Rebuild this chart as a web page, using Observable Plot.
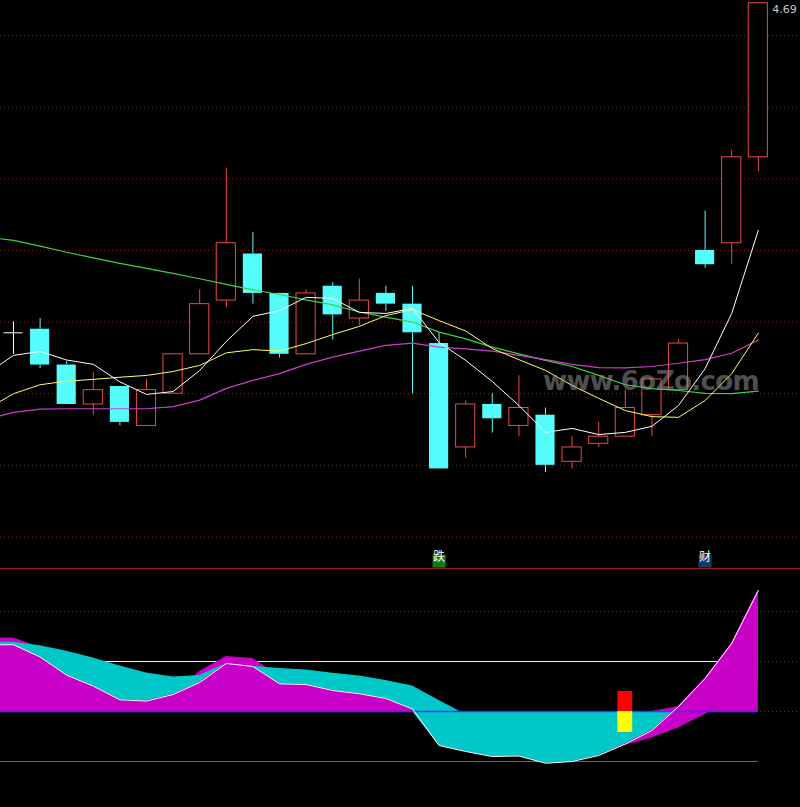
<!DOCTYPE html>
<html><head><meta charset="utf-8">
<script src="https://cdn.jsdelivr.net/npm/d3@7"></script>
<script src="https://cdn.jsdelivr.net/npm/@observablehq/plot@0.6"></script>
<style>
html,body{margin:0;padding:0;background:#000;}
#wrap{position:relative;width:800px;height:807px;background:#000;overflow:hidden;}
#sep{height:0;border-top:1px solid #a01414;}
svg{display:block;}
#wm{position:absolute;left:543px;top:368px;font:bold 26px "DejaVu Sans",sans-serif;line-height:26px;letter-spacing:-0.6px;color:rgba(150,150,150,0.55);white-space:nowrap;pointer-events:none;}
</style></head>
<body>
<div id="wrap"><div id="top"></div><div id="sep"></div><div id="bot"></div><div id="wm">www.6oZo.com</div></div>
<script>
// ---------- candles (bar index 0..28) ----------
const open  = [3.77,3.78,3.68,3.57,3.62,3.51,3.60,3.71,3.86,3.99,3.88,3.71,3.90,3.81,3.88,3.85,3.74,3.45,3.57,3.51,3.54,3.41,3.46,3.48,3.54,3.61,4.00,4.02,4.26];
const close = [3.77,3.68,3.57,3.61,3.52,3.61,3.71,3.85,4.02,3.88,3.71,3.88,3.82,3.86,3.85,3.77,3.39,3.57,3.53,3.56,3.40,3.45,3.48,3.56,3.64,3.74,3.96,4.26,4.69];
const high  = [3.80,3.81,3.69,3.66,3.62,3.64,3.71,3.89,4.23,4.05,3.88,3.89,3.91,3.92,3.90,3.90,3.77,3.58,3.60,3.65,3.56,3.48,3.52,3.61,3.64,3.75,4.11,4.28,4.69];
const low   = [3.71,3.67,3.57,3.54,3.51,3.51,3.60,3.71,3.84,3.85,3.70,3.71,3.75,3.79,3.83,3.60,3.39,3.42,3.49,3.48,3.38,3.39,3.45,3.48,3.48,3.61,3.95,3.96,4.22];

// ---------- moving averages (bar index -1..28; -1 is the partly hidden bar at the left edge) ----------
const maIndex = [-1,0,1,2,3,4,5,6,7,8,9,10,11,12,13,14,15,16,17,18,19,20,21,22,23,24,25,26,27,28];
const ma5  = [3.656,3.707,3.718,3.694,3.682,3.633,3.598,3.606,3.665,3.746,3.816,3.832,3.869,3.866,3.827,3.824,3.838,3.743,3.693,3.634,3.567,3.492,3.503,3.486,3.492,3.509,3.567,3.670,3.824,4.056];
const ma10 = [3.557,3.600,3.625,3.635,3.640,3.646,3.651,3.662,3.679,3.714,3.723,3.719,3.740,3.765,3.788,3.818,3.835,3.804,3.775,3.726,3.695,3.665,3.623,3.587,3.553,3.536,3.534,3.581,3.656,3.769];
const ma20 = [3.529,3.548,3.557,3.558,3.558,3.558,3.558,3.564,3.582,3.615,3.637,3.656,3.682,3.702,3.719,3.735,3.741,3.730,3.725,3.719,3.707,3.695,3.682,3.673,3.672,3.676,3.685,3.695,3.713,3.750];
const ma60 = [4.037,4.028,4.012,3.995,3.979,3.964,3.950,3.936,3.921,3.905,3.890,3.877,3.862,3.848,3.828,3.814,3.800,3.772,3.753,3.730,3.711,3.693,3.676,3.651,3.625,3.614,3.609,3.601,3.600,3.607];

// ---------- price grid & labels ----------
const priceGrid = [3.2,3.4,3.6,3.8,4.0,4.2,4.4,4.6];
const lastPriceLabel = "4.69";
const signalIndex = [16, 26];
const signalText  = ["跌", "财"];
const signalBg    = ["#127a16", "#123a68"];

// ---------- indicator (bar index -1..28) ----------
const indW = [26.7,26.7,21.8,14.52,10.16,4.68,4.16,6.8,11.6,19.2,18.0,11.08,10.8,8.4,7.12,5.2,1.0,-13.6,-16.0,-18.0,-17.8,-20.7,-20.0,-17.6,-13.0,-7.6,2.0,13.2,27.2,48.4];
const indS = [27.72,27.72,26.32,24.08,21.36,18.2,15.4,13.8,14.4,16.4,18.0,17.2,16.6,15.32,14.2,12.4,10.2,4.4,-1.2,-3.6,-5.6,-7.6,-9.6,-11.6,-13.6,-10.6,-6.6,-1.2,4.4,10.4];
const indM = [29.5,29.4,25.6,14.52,10.16,4.68,4.16,6.8,16.0,22.0,21.2,14.0,10.8,8.4,7.12,5.2,1.0,-13.6,-16.0,-18.0,-17.8,-20.7,-20.0,-17.6,-13.0,-7.6,2.0,13.2,27.2,48.4];
const indGrid = [40, 20, 0];
const indLevels = [20, 0, -20];
const stickIndex = 23, stickUp = 8, stickDown = -8.4;

// ---------- layout helpers ----------
const W = 800;
const xDomain = [-0.4887, 29.586];
const half = 0.36;
const RED = "#ee4a48", CYAN = "#55fcfc", GRID = "#8a1c1c";

const candles = open.map((o, i) => ({i, o, c: close[i], h: high[i], l: low[i]}));
const up = candles.filter(d => d.c > d.o);
const dn = candles.filter(d => d.c < d.o);
const dj = candles.filter(d => d.c === d.o);
const colorOf = d => d.c > d.o ? RED : d.c < d.o ? CYAN : "#ffffff";
const signals = signalIndex.map((i, k) => ({i, t: signalText[k], bg: signalBg[k]}));
const last = candles[candles.length - 1];

const topPlot = Plot.plot({
  width: W, height: 568, margin: 0,
  x: {domain: xDomain, axis: null},
  y: {domain: [3.11201, 4.69771], axis: null},
  style: {background: "#000", overflow: "visible"},
  marks: [
    Plot.ruleY(priceGrid, {stroke: GRID, strokeDasharray: "1,3"}),
    Plot.ruleX(candles, {x: "i", y1: "h", y2: d => Math.max(d.o, d.c), stroke: colorOf}),
    Plot.ruleX(candles, {x: "i", y1: "l", y2: d => Math.min(d.o, d.c), stroke: colorOf}),
    Plot.rect(dn, {x1: d => d.i - half, x2: d => d.i + half, y1: "o", y2: "c", fill: CYAN}),
    Plot.rect(up, {x1: d => d.i - half, x2: d => d.i + half, y1: "o", y2: "c", fill: "#000", stroke: RED}),
    Plot.ruleY(dj, {x1: d => d.i - half, x2: d => d.i + half, y: "c", stroke: "#ffffff"}),
    Plot.line(maIndex, {x: d => d, y: (d, k) => ma60[k], stroke: "#3fd23f", strokeWidth: 1.2, clip: true}),
    Plot.line(maIndex, {x: d => d, y: (d, k) => ma20[k], stroke: "#cc3fcc", strokeWidth: 1.2, clip: true}),
    Plot.line(maIndex, {x: d => d, y: (d, k) => ma10[k], stroke: "#ffff66", strokeWidth: 1, clip: true}),
    Plot.line(maIndex, {x: d => d, y: (d, k) => ma5[k], stroke: "#ffffff", strokeWidth: 1, clip: true}),
    Plot.text([last], {x: "i", y: "h", text: () => lastPriceLabel, textAnchor: "start", dx: 14, dy: 6, fill: "#c8c8c8", fontSize: 11, fontFamily: "DejaVu Sans"}),
    Plot.dot(signals, {x: "i", frameAnchor: "bottom", dy: -7.5, symbol: "square", r: 7.4, fill: d => d.bg}),
    Plot.text(signals, {x: "i", frameAnchor: "bottom", dy: -7.5, text: "t", fill: "#ffffff", fontSize: 12, fontFamily: "Noto Sans CJK SC"})
  ]
});
document.getElementById("top").append(topPlot);

const ind = maIndex.map((i, k) => ({i, w: indW[k], s: indS[k], m: indM[k]}));
const first = maIndex[0], lastIdx = maIndex[maIndex.length - 1];
const botPlot = Plot.plot({
  width: W, height: 238, margin: 0,
  x: {domain: xDomain, axis: null},
  y: {domain: [-38.4, 56.8], axis: null},
  style: {background: "#000"},
  marks: [
    Plot.ruleY(indGrid, {stroke: GRID, strokeDasharray: "1,3"}),
    Plot.ruleY([indLevels[0]], {x1: first, x2: lastIdx, stroke: "#fff8dc", clip: true}),
    Plot.ruleY([indLevels[2]], {x1: first, x2: lastIdx, stroke: "#2f8a2f", clip: true}),
    Plot.areaY(ind, {x: "i", y1: 0, y2: d => Math.max(d.m, 0), fill: "#c800c8", clip: true}),
    Plot.areaY(ind, {x: "i", y1: 0, y2: d => Math.min(d.w, 0), fill: "#00c8c8", clip: true}),
    Plot.areaY(ind, {x: "i", y1: "w", y2: d => Math.max(d.s, d.w), fill: "#00c8c8", clip: true}),
    Plot.areaY(ind, {x: "i", y1: d => Math.min(d.s, d.w), y2: "w", fill: "#c800c8", clip: true}),
    Plot.ruleY([indLevels[1]], {x1: first, x2: lastIdx, stroke: "#3434ff", strokeWidth: 1.5, clip: true}),
    Plot.line(ind, {x: "i", y: "w", stroke: "#ffffff", strokeWidth: 1, clip: true}),
    Plot.rect([stickIndex], {x1: d => d - 0.28, x2: d => d + 0.28, y1: 0, y2: stickUp, fill: "#ff0000"}),
    Plot.rect([stickIndex], {x1: d => d - 0.28, x2: d => d + 0.28, y1: 0, y2: stickDown, fill: "#ffff00"})
  ]
});
document.getElementById("bot").append(botPlot);
</script>
</body></html>
